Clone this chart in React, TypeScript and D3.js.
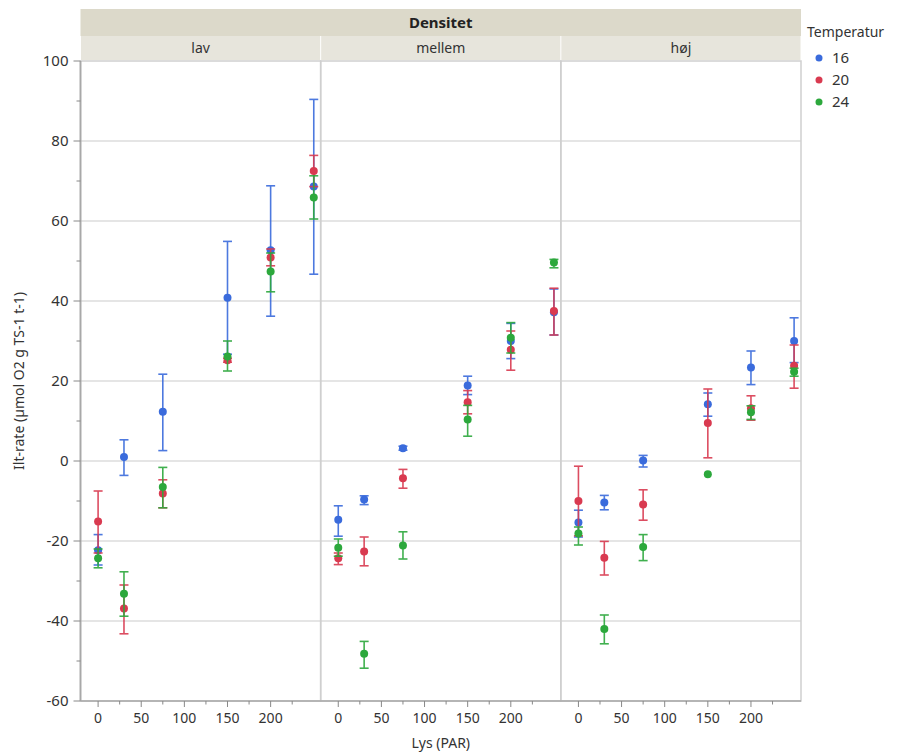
import React from "react";
import * as d3 from "d3";

// Facets and groups
const densities = ["lav", "mellem", "høj"];
const temperatures = ["16", "20", "24"];
const lightLevels = [0, 30, 75, 150, 200, 250];
const xTicks = [0, 50, 100, 150, 200];
const yTicks = [-60, -40, -20, 0, 20, 40, 60, 80, 100];

// Means and interval limits, 6 light levels per density (lav, mellem, høj)
const mean16 = [-22.3, 1.0, 12.3, 40.8, 52.7, 68.6, -14.7, -9.6, 3.2, 18.9, 30.0, 37.2, -15.4, -10.4, 0.1, 14.2, 23.4, 30.0];
const low16 = [-26.0, -3.6, 2.6, 26.7, 36.2, 46.7, -18.8, -10.9, 2.7, 16.6, 25.6, 31.5, -19.0, -12.2, -1.5, 11.2, 19.1, 24.6];
const high16 = [-18.4, 5.3, 21.7, 54.9, 68.8, 90.4, -11.2, -8.7, 3.7, 21.2, 34.4, 43.0, -12.3, -8.6, 1.4, 17.0, 27.5, 35.8];

const mean20 = [-15.1, -36.9, -8.1, 25.2, 50.9, 72.5, -24.3, -22.6, -4.3, 14.7, 27.8, 37.5, -10.0, -24.2, -10.9, 9.5, 13.2, 23.8];
const low20 = [-23.0, -43.2, -11.7, 24.7, 48.8, 68.6, -25.9, -26.2, -6.8, 11.8, 22.7, 31.5, -18.7, -28.5, -14.8, 0.8, 10.2, 18.2];
const high20 = [-7.5, -31.0, -4.7, 25.7, 53.0, 76.4, -23.0, -19.0, -2.1, 17.6, 32.5, 43.2, -1.3, -20.1, -7.2, 18.0, 16.3, 29.0];

const mean24 = [-24.3, -33.2, -6.5, 26.1, 47.4, 65.9, -21.7, -48.2, -21.1, 10.4, 30.8, 49.6, -18.1, -42.0, -21.5, -3.3, 12.2, 22.3];
const low24 = [-26.7, -38.8, -11.7, 22.5, 42.3, 60.5, -23.8, -51.8, -24.5, 6.2, 27.0, 48.3, -21.0, -45.7, -24.9, -3.3, 10.4, 21.2];
const high24 = [-22.0, -27.7, -1.6, 30.0, 52.0, 71.3, -19.5, -45.1, -17.7, 13.9, 34.6, 50.4, -16.5, -38.5, -18.4, -3.3, 13.8, 23.2];

const seriesMeans = [mean16, mean20, mean24];
const seriesLow = [low16, low20, low24];
const seriesHigh = [high16, high20, high24];
const colors = ["#3a6bdc", "#d93a50", "#2ca83c"];

const W = 904;
const H = 756;
const plotLeft = 80.5;
const plotRight = 801;
const plotTop = 61;
const plotBottom = 701;
const panelW = (plotRight - plotLeft) / densities.length;
const font = "'Noto Sans', 'Open Sans', sans-serif";

export default function App() {
  const y = d3.scaleLinear().domain([-60, 100]).range([plotBottom, plotTop]);
  const panelX = d3
    .scaleBand<string>()
    .domain(densities)
    .range([plotLeft, plotRight])
    .padding(0);
  const xFor = (d: string) =>
    d3
      .scaleLinear()
      .domain([-20.4, 258])
      .range([panelX(d)!, panelX(d)! + panelW]);

  const minorY = d3.range(-50, 100, 20);
  const minorX = d3.range(25, 250, 50);

  return (
    <svg
      width={W}
      height={H}
      style={{ position: "absolute", left: 0, top: 0, background: "#fff" }}
      fontFamily={font}
    >
      {/* facet header strips */}
      <rect x={plotLeft} y={9} width={plotRight - plotLeft} height={27} fill="#dcd9ca" />
      <text x={(plotLeft + plotRight) / 2} y={28} textAnchor="middle" fontSize={15} fontWeight="bold" fill="#222">
        Densitet
      </text>
      {densities.map((d) => (
        <g key={d}>
          <rect x={panelX(d)! + 0.5} y={36} width={panelW - 1} height={24} fill="#e7e5dc" />
          <text x={panelX(d)! + panelW / 2} y={53} textAnchor="middle" fontSize={14} fill="#333">
            {d}
          </text>
        </g>
      ))}

      {/* gridlines */}
      {yTicks
        .filter((t) => t > -60 && t < 100)
        .map((t) => (
          <line key={t} x1={plotLeft} x2={plotRight} y1={y(t)} y2={y(t)} stroke="#dcdcdc" strokeWidth={1.6} />
        ))}

      {/* panel frames */}
      {densities.map((d) => (
        <rect
          key={d}
          x={panelX(d)!}
          y={plotTop}
          width={panelW}
          height={plotBottom - plotTop}
          fill="none"
          stroke="#cfcfcf"
          strokeWidth={1.5}
        />
      ))}

      {/* y axis */}
      <line x1={plotLeft} x2={plotLeft} y1={plotTop} y2={plotBottom} stroke="#a8a8a8" strokeWidth={1.8} />
      {yTicks.map((t) => (
        <g key={t}>
          <line x1={plotLeft - 7} x2={plotLeft} y1={y(t)} y2={y(t)} stroke="#888" strokeWidth={1} />
          <text x={plotLeft - 12} y={y(t) + 5} textAnchor="end" fontSize={15} fill="#333">
            {t}
          </text>
        </g>
      ))}
      {minorY.map((t) => (
        <line key={t} x1={plotLeft - 4} x2={plotLeft} y1={y(t)} y2={y(t)} stroke="#888" strokeWidth={1} />
      ))}
      <text
        transform={`translate(24, ${(plotTop + plotBottom) / 2}) rotate(-90)`}
        textAnchor="middle"
        fontSize={14}
        fill="#333"
      >
        Ilt-rate (µmol O2 g TS-1 t-1)
      </text>

      {/* x axes */}
      <line x1={plotLeft} x2={plotRight} y1={plotBottom} y2={plotBottom} stroke="#a8a8a8" strokeWidth={1.5} />
      {densities.map((d) => {
        const x = xFor(d);
        return (
          <g key={d}>
            {xTicks.map((t) => (
              <g key={t}>
                <line x1={x(t)} x2={x(t)} y1={plotBottom} y2={plotBottom + 6} stroke="#888" strokeWidth={1} />
                <text x={x(t)} y={plotBottom + 22} textAnchor="middle" fontSize={14} fill="#333">
                  {t}
                </text>
              </g>
            ))}
            {minorX.map((t) => (
              <line key={t} x1={x(t)} x2={x(t)} y1={plotBottom} y2={plotBottom + 3.5} stroke="#888" strokeWidth={1} />
            ))}
          </g>
        );
      })}
      <text x={(plotLeft + plotRight) / 2} y={748} textAnchor="middle" fontSize={14} fill="#333">
        Lys (PAR)
      </text>

      {/* error bars and means */}
      {temperatures.map((temp, s) => (
        <g key={temp}>
          {densities.map((d, di) => {
            const x = xFor(d);
            return lightLevels.map((lv, li) => {
              const i = di * lightLevels.length + li;
              const cx = x(lv);
              const lo = y(seriesLow[s][i]);
              const hi = y(seriesHigh[s][i]);
              const c = colors[s];
              const hasBar = Math.abs(lo - hi) > 0.5;
              return (
                <g key={`${d}-${lv}`}>
                  {hasBar && (
                    <g stroke={c} strokeWidth={1.6} opacity={0.9}>
                      <line x1={cx} x2={cx} y1={lo} y2={hi} />
                      <line x1={cx - 4.5} x2={cx + 4.5} y1={lo} y2={lo} />
                      <line x1={cx - 4.5} x2={cx + 4.5} y1={hi} y2={hi} />
                    </g>
                  )}
                  <circle cx={cx} cy={y(seriesMeans[s][i])} r={4} fill={c} />
                </g>
              );
            });
          })}
        </g>
      ))}

      {/* legend */}
      <text x={807} y={37} fontSize={14} fill="#333">
        Temperatur
      </text>
      {temperatures.map((t, i) => (
        <g key={t}>
          <circle cx={819} cy={58 + i * 22} r={3.5} fill={colors[i]} />
          <text x={832} y={63 + i * 22} fontSize={15} fill="#333">
            {t}
          </text>
        </g>
      ))}
    </svg>
  );
}
